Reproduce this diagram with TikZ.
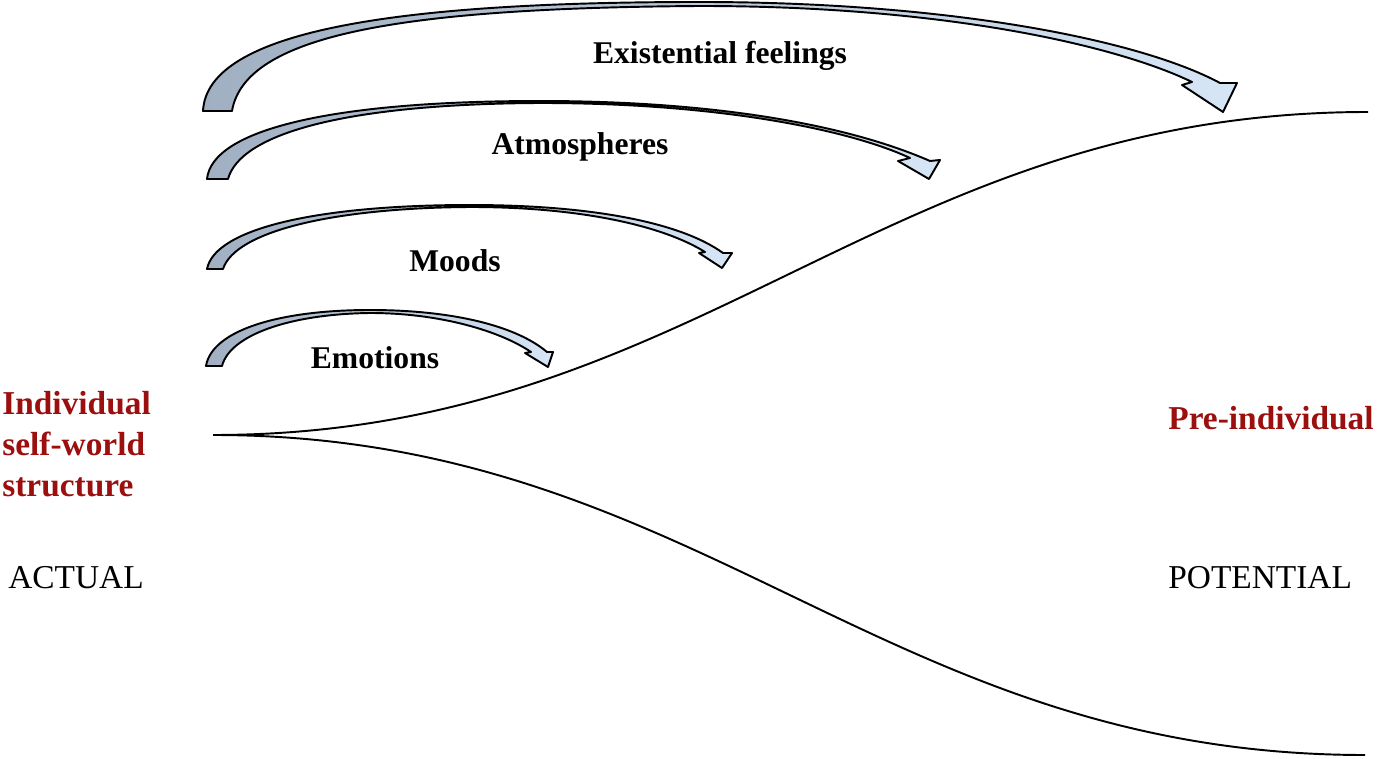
\documentclass[tikz,border=0pt]{standalone}
\usepackage{fontspec}
\setmainfont{Liberation Serif}
\usepackage{tikz}
\usetikzlibrary{positioning}

\definecolor{poleRed}{RGB}{155,15,15}
\definecolor{feelDark}{RGB}{160,176,194}
\definecolor{feelLight}{RGB}{214,230,246}

\begin{document}
\begin{tikzpicture}[
    x=0.02cm, y=-0.02cm,
    feeling/.style={draw=black, line width=1.1pt, line join=round, left color=feelDark, right color=feelLight},
    branch/.style={draw=black, line width=1.1pt},
    feellabel/.style={inner sep=0pt, font=\fontsize{18}{21.6}\selectfont\bfseries},
    pole/.style={inner sep=0pt, align=left, text=poleRed, font=\fontsize{19}{23.5}\selectfont\bfseries},
    mode/.style={inner sep=0pt, font=\fontsize{19}{23}\selectfont}
]
\useasboundingbox (0,0) rectangle (1381,759);

% the two branches
\coordinate (split) at (213,435);
\coordinate (upend) at (1368,112);
\coordinate (lowend) at (1365,755);
\draw[branch] (split) .. controls +(487,0) and +(-488,0) .. (upend);
\draw[branch] (split) .. controls +(487,0) and +(-485,0) .. (lowend);

% curved arrows
\path[feeling] (203,111) .. controls (207,30) and (400,2) .. (700,2) .. controls (950,2) and (1140,40) .. (1220,83)
    -- (1237,83) -- (1223,112) -- (1182,85) -- (1192,82)
    .. controls (1120,47) and (950,6) .. (700,6) .. controls (400,8) and (245,35) .. (232,111) -- cycle;
\path[feeling] (207,179) .. controls (212,130) and (330,101) .. (540,101) .. controls (720,101) and (850,126) .. (930,161)
    -- (940,160) -- (929,179) -- (898,161) -- (910,158)
    .. controls (850,130) and (720,103) .. (540,103) .. controls (340,104) and (240,135) .. (228,179) -- cycle;
\path[feeling] (207,269) .. controls (215,228) and (320,205) .. (470,205) .. controls (590,205) and (680,222) .. (723,253)
    -- (732,253) -- (722,268) -- (699,253) -- (705,252)
    .. controls (665,227) and (585,207) .. (470,207) .. controls (330,208) and (235,232) .. (223,269) -- cycle;
\path[feeling] (206,366) .. controls (212,330) and (280,310) .. (370,310) .. controls (450,310) and (515,325) .. (547,352)
    -- (553,352) -- (548,367) -- (525,353) -- (531,352)
    .. controls (500,331) and (440,313) .. (370,313) .. controls (290,314) and (230,335) .. (222,366) -- cycle;

% labels
\node[feellabel] (exist) at (720,56) {Existential feelings};
\node[feellabel] (atmo) at (580,147) {Atmospheres};
\node[feellabel] (moods) at (455,261) {Moods};
\node[feellabel] (emo) at (375,358) {Emotions};

\node[pole, anchor=west] (indiv) at (2,444) {Individual\\self-world\\structure};
\node[pole, anchor=west] (preind) at (1168,418) {Pre-individual};
\node[mode, anchor=west] (actual) at (8,578) {ACTUAL};
\node[mode, anchor=west] (potent) at (1168,578) {POTENTIAL};
\end{tikzpicture}
\end{document}
